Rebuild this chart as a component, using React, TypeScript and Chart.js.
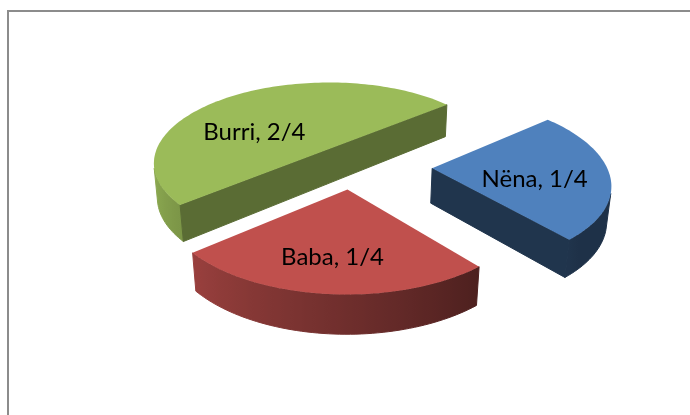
import { useEffect, useRef } from "react";
import { Chart, registerables } from "chart.js";

Chart.register(...registerables);

// ---- data ----
const labels = ["Nëna", "Baba", "Burri"];
const values = [1, 1, 2];
const valueLabels = ["1/4", "1/4", "2/4"];

// ---- style ----
const topColors = ["#4F81BD", "#C0504D", "#9BBB59"];
const explode = [80, 50, 42]; // explosion distance on the pie plane
const flatShade = [0.41, 0.5, 0.58];
const labelDist = [0.58, 0.68, 0.51];
const labelTurn = [7.6, 1, -20]; // degrees, relative to slice bisector

const VIEW = {
  tilt: (28 * Math.PI) / 180,
  dist: 1050,
  depth: 40,
  radiusScale: 1.055,
};

function hexToRgb(h: string) {
  const n = parseInt(h.slice(1), 16);
  return [(n >> 16) & 255, (n >> 8) & 255, n & 255];
}
function shade(h: string, f: number) {
  const [r, g, b] = hexToRgb(h);
  const c = (v: number) => Math.max(0, Math.min(255, Math.round(v * f)));
  return `rgb(${c(r)},${c(g)},${c(b)})`;
}
function curveShade(theta: number) {
  let d = ((theta * 180) / Math.PI) % 360;
  if (d < 0) d += 360;
  if (d > 270) d -= 360;
  const f = 0.4 + ((d - 50) / 90) * 0.4;
  return Math.max(0.38, Math.min(0.9, f));
}

export default function App() {
  const ref = useRef<HTMLCanvasElement>(null);

  useEffect(() => {
    const canvas = ref.current!;
    const pie3d = {
      id: "pie3d",
      beforeDraw(chart: any) {
        const ctx = chart.ctx;
        ctx.save();
        ctx.fillStyle = "#ffffff";
        ctx.fillRect(0, 0, chart.width, chart.height);
        ctx.fillStyle = "#8c8c8c";
        ctx.fillRect(7, 10, 2, chart.height - 10);
        ctx.fillRect(7, 10, chart.width - 7, 2);
        ctx.restore();
      },
      beforeDatasetsDraw(chart: any) {
        const ctx: CanvasRenderingContext2D = chart.ctx;
        const meta = chart.getDatasetMeta(0);
        const t = VIEW.tilt;
        const D = VIEW.dist;
        const H = VIEW.depth;
        const sa = Math.sin(t);
        const ca = Math.cos(t);
        const first = meta.data[0].getProps(["x", "y", "outerRadius"], true);
        const cx = first.x;
        const cy = first.y;
        const R = first.outerRadius * VIEW.radiusScale;
        const proj = (X: number, Y: number, Z: number) => {
          const yc = Y * sa - Z * ca;
          const zc = D - (Y * ca + Z * sa);
          const s = D / zc;
          return { x: cx + X * s, y: cy + yc * s };
        };
        const camY = D * ca;
        const visible = (nx: number, ny: number, px: number, py: number) =>
          nx * (0 - px) + ny * (camY - py) > 0;

        const slices = meta.data.map((arc: any, i: number) => {
          const p = arc.getProps(["startAngle", "endAngle"], true);
          const mid = (p.startAngle + p.endAngle) / 2;
          const ax = explode[i] * Math.cos(mid);
          const ay = explode[i] * Math.sin(mid);
          const depthKey = ay + R * 0.4 * Math.sin(mid);
          return { i, a0: p.startAngle, a1: p.endAngle, mid, ax, ay, depthKey };
        });
        slices.sort((a: any, b: any) => a.depthKey - b.depthKey);

        ctx.save();
        ctx.lineJoin = "round";
        for (const s of slices) {
          const color = topColors[s.i];
          const n = Math.max(8, Math.ceil((s.a1 - s.a0) / (Math.PI / 120)));
          const th: number[] = [];
          for (let k = 0; k <= n; k++) th.push(s.a0 + ((s.a1 - s.a0) * k) / n);
          const gx = th.map((a) => s.ax + R * Math.cos(a));
          const gy = th.map((a) => s.ay + R * Math.sin(a));
          const top = th.map((_, k) => proj(gx[k], gy[k], 0));
          const bot = th.map((_, k) => proj(gx[k], gy[k], -H));
          const apT = proj(s.ax, s.ay, 0);
          const apB = proj(s.ax, s.ay, -H);

          // curved wall
          const vis = th.map((a, k) => visible(Math.cos(a), Math.sin(a), gx[k], gy[k]));
          let k = 0;
          while (k <= n) {
            if (!vis[k]) {
              k++;
              continue;
            }
            const i0 = k;
            while (k + 1 <= n && vis[k + 1]) k++;
            const i1 = k;
            k++;
            if (i1 <= i0) continue;
            ctx.beginPath();
            ctx.moveTo(top[i0].x, top[i0].y);
            for (let j = i0 + 1; j <= i1; j++) ctx.lineTo(top[j].x, top[j].y);
            for (let j = i1; j >= i0; j--) ctx.lineTo(bot[j].x, bot[j].y);
            ctx.closePath();
            const x0 = top[i0].x;
            const x1 = top[i1].x;
            let fill: any;
            if (Math.abs(x1 - x0) < 1) {
              fill = shade(color, curveShade(th[i0]));
            } else {
              const g = ctx.createLinearGradient(x0, 0, x1, 0);
              let last = -1;
              for (let j = i0; j <= i1; j++) {
                const tt = (top[j].x - x0) / (x1 - x0);
                if (tt >= last && tt <= 1) {
                  g.addColorStop(tt, shade(color, curveShade(th[j])));
                  last = tt;
                }
              }
              fill = g;
            }
            ctx.fillStyle = fill;
            ctx.strokeStyle = fill;
            ctx.lineWidth = 1;
            ctx.fill();
            ctx.stroke();
          }

          // flat walls (one path so coplanar walls leave no seam)
          const walls = [
            { nx: Math.sin(s.a0), ny: -Math.cos(s.a0), k: 0 },
            { nx: -Math.sin(s.a1), ny: Math.cos(s.a1), k: n },
          ];
          ctx.beginPath();
          let any = false;
          for (const w of walls) {
            const px = (s.ax + gx[w.k]) / 2;
            const py = (s.ay + gy[w.k]) / 2;
            if (!visible(w.nx, w.ny, px, py)) continue;
            any = true;
            ctx.moveTo(apT.x, apT.y);
            ctx.lineTo(top[w.k].x, top[w.k].y);
            ctx.lineTo(bot[w.k].x, bot[w.k].y);
            ctx.lineTo(apB.x, apB.y);
            ctx.closePath();
          }
          if (any) {
            ctx.fillStyle = shade(color, flatShade[s.i]);
            ctx.strokeStyle = ctx.fillStyle;
            ctx.lineWidth = 1;
            ctx.fill();
            ctx.stroke();
          }

          // top face
          ctx.fillStyle = color;
          ctx.beginPath();
          ctx.moveTo(apT.x, apT.y);
          for (const p of top) ctx.lineTo(p.x, p.y);
          ctx.closePath();
          ctx.fill();
        }

        // labels
        ctx.fillStyle = "#000000";
        ctx.font = '24px "Lato", "Open Sans", sans-serif';
        ctx.textAlign = "center";
        ctx.textBaseline = "alphabetic";
        for (const s of slices) {
          const d = labelDist[s.i] * R;
          const a = s.mid + (labelTurn[s.i] * Math.PI) / 180;
          const p = proj(s.ax + d * Math.cos(a), s.ay + d * Math.sin(a), 0);
          ctx.fillText(`${labels[s.i]}, ${valueLabels[s.i]}`, p.x, p.y + 8.5);
        }
        ctx.restore();
        return false;
      },
    };

    const chart = new Chart(canvas, {
      type: "pie",
      data: {
        labels,
        datasets: [{ data: values, backgroundColor: topColors, borderWidth: 0 }],
      },
      options: {
        animation: false,
        responsive: false,
        rotation: 50,
        layout: { padding: { left: 14, right: 0, top: 0, bottom: 85 } },
        plugins: { legend: { display: false }, tooltip: { enabled: false } },
      },
      plugins: [pie3d],
    });
    return () => chart.destroy();
  }, []);

  return (
    <div style={{ position: "fixed", left: 0, top: 0, width: 690, height: 415, background: "#fff" }}>
      <canvas ref={ref} width={690} height={415} style={{ display: "block" }} />
    </div>
  );
}
